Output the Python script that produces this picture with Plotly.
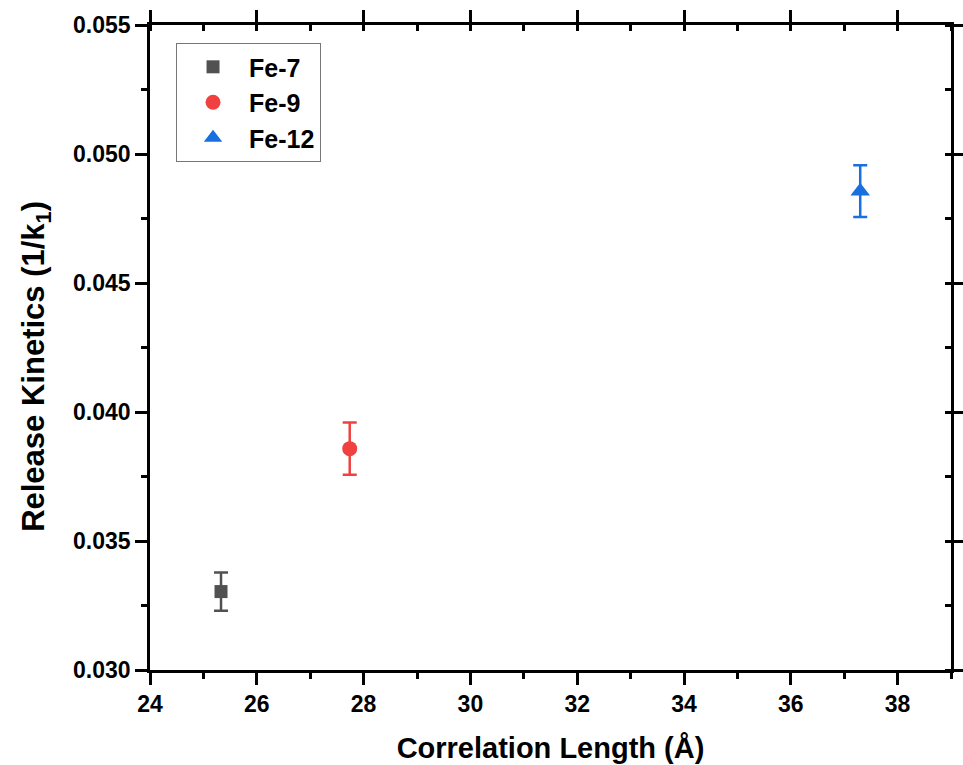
import plotly.graph_objects as go

# Data
names = ["Fe-7", "Fe-9", "Fe-12"]
corr_length = [25.33, 27.74, 37.30]
release_kinetics = [0.03304, 0.03858, 0.04856]
errors = [0.00074, 0.00101, 0.00100]
colors = ["#515151", "#F14040", "#1A6FDF"]
symbols = ["square", "circle", "triangle-up"]
sizes = [13, 15, 17]

x_range = [24, 39]
y_range = [0.030, 0.055]

FONT = "Arial, Liberation Sans, sans-serif"

fig = go.Figure()
for n, x, y, e, c, s, sz in zip(names, corr_length, release_kinetics, errors, colors, symbols, sizes):
    fig.add_trace(go.Scatter(
        x=[x], y=[y], name=n, mode="markers",
        marker=dict(color=c, symbol=s, size=sz, line=dict(width=0)),
        error_y=dict(type="data", array=[e], visible=True, color=c,
                     thickness=2.5, width=7),
    ))

# invisible trace so the mirrored top/right axes are drawn
fig.add_trace(go.Scatter(x=[None], y=[None], xaxis="x2", yaxis="y2",
                         showlegend=False, hoverinfo="skip", mode="markers"))

axis_common = dict(showline=True, linecolor="black", linewidth=2.5,
                   showgrid=False, zeroline=False, ticks="outside",
                   ticklen=12, tickwidth=2.5, tickcolor="black", automargin=False)

fig.update_layout(
    width=963, height=765,
    margin=dict(l=150, r=12, t=25, b=95),
    plot_bgcolor="white", paper_bgcolor="white",
    font=dict(family=FONT, color="black"),
    xaxis=dict(range=x_range, dtick=2, tick0=24,
               minor=dict(dtick=1, ticks="outside", ticklen=6, tickwidth=2.5, tickcolor="black"),
               tickfont=dict(size=23, weight="bold", family=FONT),
               title=dict(text="Correlation Length (Å)", standoff=22,
                          font=dict(size=29, weight="bold", family=FONT)),
               **axis_common),
    yaxis=dict(range=y_range, dtick=0.005, tick0=0.030, tickformat=".3f",
               minor=dict(dtick=0.0025, ticks="outside", ticklen=6, tickwidth=2.5, tickcolor="black"),
               tickfont=dict(size=23, weight="bold", family=FONT),
               **axis_common),
    xaxis2=dict(overlaying="x", side="top", anchor="y", range=x_range, dtick=2, tick0=24,
                showticklabels=False,
                minor=dict(dtick=1, ticks="inside", ticklen=6, tickwidth=2.5, tickcolor="black"),
                **axis_common),
    yaxis2=dict(overlaying="y", side="right", anchor="x", range=y_range, dtick=0.005,
                tick0=0.030, showticklabels=False,
                minor=dict(dtick=0.0025, ticks="inside", ticklen=6, tickwidth=2.5, tickcolor="black"),
                **axis_common),
    legend=dict(x=0.0325, y=0.972, xanchor="left", yanchor="top",
                bgcolor="white", bordercolor="#777777", borderwidth=1,
                font=dict(size=25, weight="bold", family=FONT),
                itemwidth=62, tracegroupgap=0),
    showlegend=True,
    annotations=[dict(text="<b>Release Kinetics (1/k<sub>1</sub>)</b>", textangle=-90,
                      xref="paper", yref="paper", x=-0.1423, y=0.47,
                      xanchor="center", yanchor="middle", showarrow=False,
                      font=dict(size=31, family=FONT, color="black"))],
)

fig.write_html("out.html")
